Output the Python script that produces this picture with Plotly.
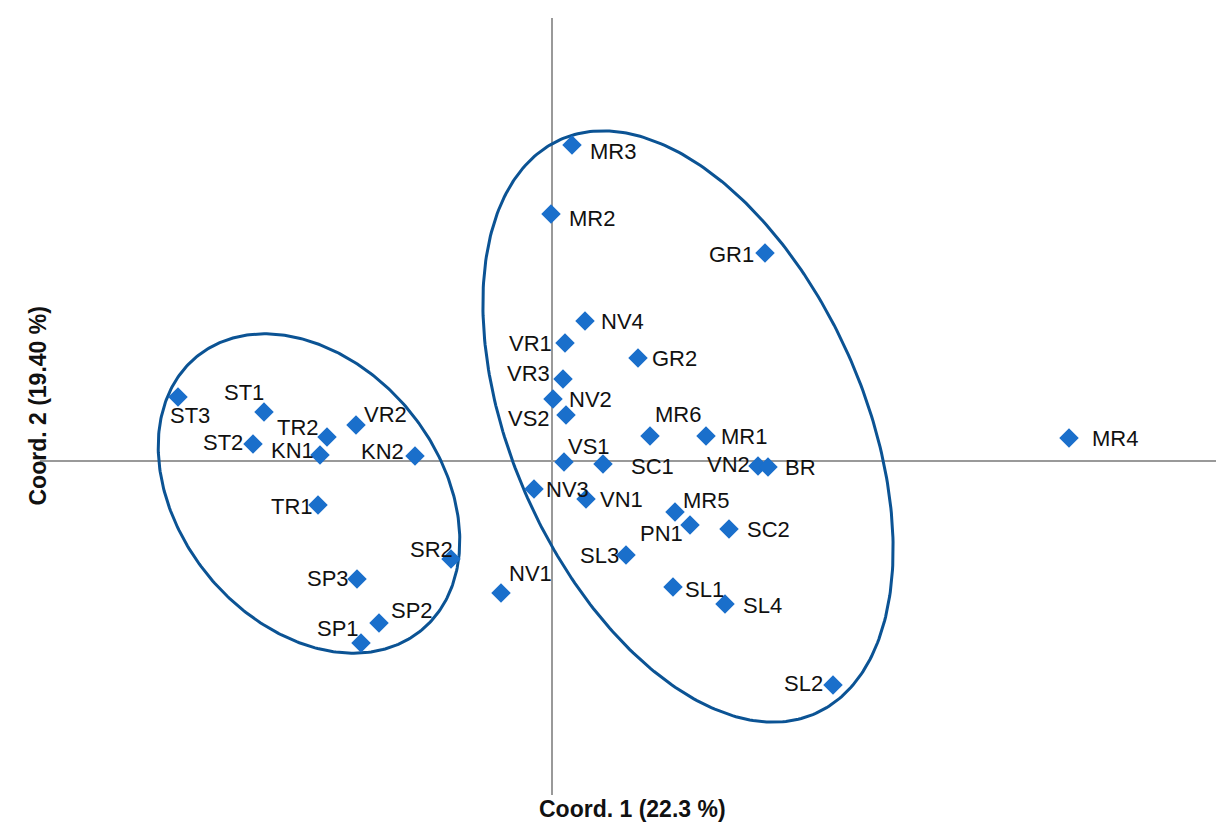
import numpy as np
import plotly.graph_objects as go

# ---- data ----
names = ["MR3", "MR2", "GR1", "NV4", "VR1", "GR2", "VR3", "NV2", "VS2", "MR6",
         "MR1", "VS1", "SC1", "VN2", "BR", "NV3", "VN1", "MR5", "PN1", "SC2",
         "SL3", "SL1", "SL4", "SL2", "MR4", "NV1", "SR2", "SP3", "SP2", "SP1",
         "ST3", "ST1", "ST2", "TR2", "VR2", "KN1", "KN2", "TR1"]
coord1 = [0.20, -0.01, 2.13, 0.33, 0.13, 0.86, 0.11, 0.01, 0.14, 0.98,
          1.54, 0.12, 0.51, 2.06, 2.16, -0.18, 0.34, 1.23, 1.38, 1.77,
          0.74, 1.21, 1.73, 2.81, 5.17, -0.51, -1.01, -1.95, -1.73, -1.91,
          -3.74, -2.88, -2.99, -2.25, -1.96, -2.32, -1.37, -2.34]
coord2 = [3.16, 2.47, 2.08, 1.40, 1.18, 1.03, 0.82, 0.62, 0.46, 0.25,
          0.25, -0.01, -0.03, -0.05, -0.06, -0.28, -0.38, -0.51, -0.64, -0.68,
          -0.94, -1.26, -1.43, -2.24, 0.23, -1.32, -0.98, -1.18, -1.62, -1.82,
          0.64, 0.49, 0.17, 0.24, 0.36, 0.06, 0.05, -0.44]

x_title = "Coord. 1 (22.3 %)"
y_title = "Coord. 2 (19.40 %)"

# ellipse groups: center (x, y), semi-axes (a, b), rotation angle (deg)
ellipses = [
    dict(cx=-2.43, cy=-0.325, a=1.77, b=1.30, ang=-50.5),
    dict(cx=1.36, cy=0.345, a=3.14, b=1.757, ang=-66.0),
]

# ---- label placement (pixel offsets, dx right, dy down) ----
label_offsets = {
    "MR3": (41, 6), "MR2": (41, 4), "GR1": (-34, 1), "NV4": (37, 0), "VR1": (-35, 0),
    "GR2": (36, 0), "VR3": (-35, -6), "NV2": (37, 0), "VS2": (-37, 3), "MR6": (28, -22),
    "MR1": (38, 0), "VS1": (25, -16), "SC1": (49, 2), "VN2": (-30, -2), "BR": (32, 0),
    "NV3": (33, 0), "VN1": (35, 0), "MR5": (31, -12), "PN1": (-29, 8), "SC2": (39, 0),
    "SL3": (-27, 0), "SL1": (31, 2), "SL4": (37, 1), "SL2": (-30, -2), "MR4": (46, 0),
    "NV1": (29, -20), "SR2": (-20, -10), "SP3": (-29, -1), "SP2": (33, -13), "SP1": (-23, -15),
    "ST3": (12, 18), "ST1": (-20, -20), "ST2": (-30, -2), "TR2": (-29, -10), "VR2": (29, -11),
    "KN1": (-28, -5), "KN2": (-33, -5), "TR1": (-26, 1),
}

FONT = "Liberation Sans, Arial, sans-serif"

fig = go.Figure()

t = np.linspace(0, 2 * np.pi, 361)
for e in ellipses:
    th = np.deg2rad(e["ang"])
    ex = e["cx"] + e["a"] * np.cos(t) * np.cos(th) - e["b"] * np.sin(t) * np.sin(th)
    ey = e["cy"] + e["a"] * np.cos(t) * np.sin(th) + e["b"] * np.sin(t) * np.cos(th)
    fig.add_trace(go.Scatter(x=ex, y=ey, mode="lines",
                             line=dict(color="#0b5394", width=3),
                             hoverinfo="skip", showlegend=False))

fig.add_trace(go.Scatter(x=coord1, y=coord2, mode="markers", text=names,
                         marker=dict(symbol="diamond", size=15, color="#1a6fcb",
                                     line=dict(width=0)),
                         showlegend=False))

for n, xv, yv in zip(names, coord1, coord2):
    dx, dy = label_offsets[n]
    fig.add_annotation(x=xv, y=yv, text=n, showarrow=False,
                       xshift=dx, yshift=-dy,
                       font=dict(family=FONT, size=22, color="#111111"))

fig.add_annotation(xref="paper", yref="paper", x=0.5, y=0, yanchor="top",
                   yshift=0, text="<b>" + x_title + "</b>", showarrow=False,
                   borderpad=0,
                   font=dict(family=FONT, size=23, color="#111111"))
fig.add_annotation(xref="paper", yref="paper", x=-0.0152, y=0.5, textangle=-90,
                   text="<b>" + y_title + "</b>", showarrow=False,
                   font=dict(family=FONT, size=23, color="#111111"))

axis_common = dict(showgrid=False, showticklabels=False, ticks="", showline=False,
                   zeroline=True, zerolinecolor="#999999", zerolinewidth=1.5)
fig.update_layout(
    width=1216, height=816,
    margin=dict(l=32, r=0, t=10, b=29),
    paper_bgcolor="white", plot_bgcolor="white",
    xaxis=dict(range=[-5.12, 6.72], **axis_common),
    yaxis=dict(range=[-3.34, 4.43], **axis_common),
)

fig.write_html("out.html")
